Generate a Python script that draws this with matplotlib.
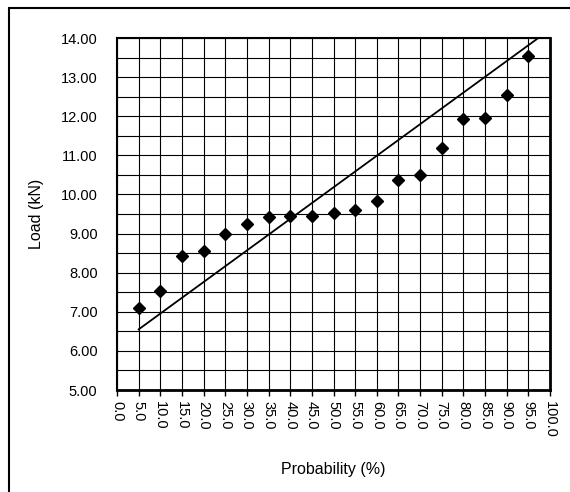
import matplotlib
matplotlib.use("Agg")
from matplotlib import pyplot as plt
from matplotlib.patches import Rectangle
import numpy as np

# probabilites (%) et charges mesurees (kN)
proba = [5, 10, 15, 20, 25, 30, 35, 40, 45, 50, 55, 60, 65, 70, 75, 80, 85, 90, 95]
charge = [7.10, 7.54, 8.43, 8.56, 9.00, 9.25, 9.43, 9.44, 9.44, 9.52, 9.60, 9.82,
          10.36, 10.50, 11.20, 11.94, 11.95, 12.55, 13.53]
# droite theorique
droite_x = [5, 97.3]
droite_y = [6.55, 14.0]

x_ticks = np.arange(0, 101, 5)
y_ticks = np.arange(5, 14.01, 1)
y_grid = np.arange(5, 14.01, 0.5)

plt.rcParams['font.family'] = ['Liberation Sans', 'DejaVu Sans']

fig = plt.figure(figsize=(5.7, 4.92), dpi=100)
ax = fig.add_axes([117/570, 1 - 390/492, (550-117)/570, (390-38)/492])

ax.plot(droite_x, droite_y, color='black', lw=1.3, zorder=3)
ax.plot(proba, charge, 'D', color='black', markersize=6.5, zorder=4)

ax.set_xlim(0, 100)
ax.set_ylim(5, 14)
ax.set_xticks(x_ticks)
ax.set_xticklabels(["%.1f" % v for v in x_ticks], rotation=270, fontsize=10.5)
ax.set_yticks(y_ticks)
ax.set_yticklabels(["%.2f" % v for v in y_ticks], fontsize=10.5)
ax.set_yticks(y_grid, minor=True)
ax.grid(True, which='major', axis='x', color='black', lw=0.8)
ax.grid(True, which='both', axis='y', color='black', lw=0.8)
ax.tick_params(axis='x', length=4, width=1, pad=4, direction='out')
ax.tick_params(axis='y', which='both', length=0, pad=14)

for s in ax.spines.values():
    s.set_linewidth(1.5)
ax.spines['bottom'].set_linewidth(2)
ax.spines['right'].set_linewidth(2)

ax.set_xlabel("Probability (%)", fontsize=11.5, labelpad=17)
ax.set_ylabel("Load (kN)", fontsize=11.5, labelpad=12)

# cadre exterieur
fig.add_artist(Rectangle((9/570, -0.1), 1.2, 1 - 8/492 + 0.1, transform=fig.transFigure,
                         fill=False, edgecolor='black', lw=1.5))

fig.savefig("out.png", dpi=100)
